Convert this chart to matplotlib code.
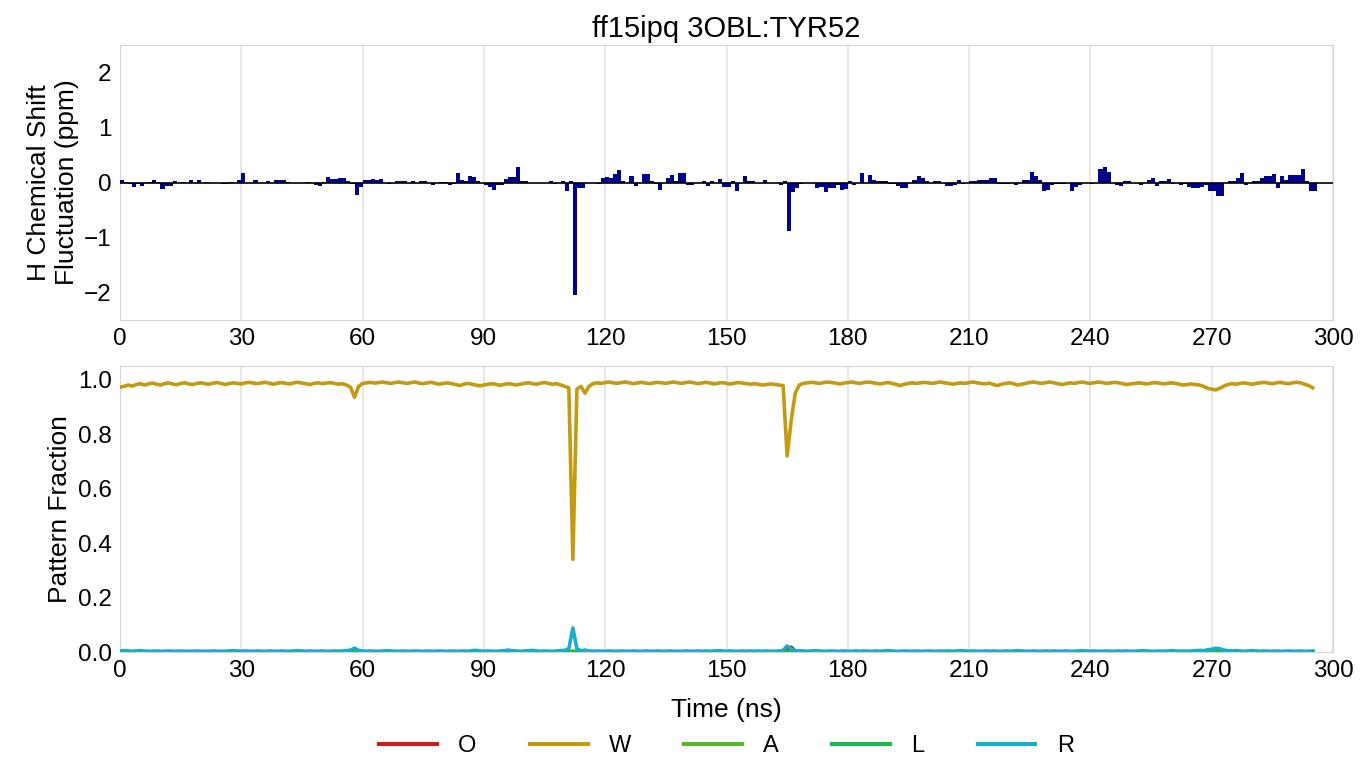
import numpy as np
import matplotlib
matplotlib.use("Agg")
from matplotlib import pyplot as plt

plt.rcParams["font.family"] = ["Liberation Sans", "DejaVu Sans"]

title = "ff15ipq 3OBL:TYR52"

# H chemical shift fluctuation (ppm), one bar per ns, t = 0..295
shift = [
    0.05, 0.01, -0.02, -0.08, -0.02, -0.07, 0.0, 0.01, 0.04, 0.01,
    -0.12, -0.07, -0.07, 0.02, 0.0, 0.01, 0.0, 0.04, 0.0, 0.04,
    0.0, 0.01, 0.0, 0.0, 0.0, -0.03, -0.03, 0.01, 0.0, 0.05,
    0.17, 0.0, 0.0, 0.04, 0.0, 0.0, 0.03, 0.0, 0.05, 0.04,
    0.04, 0.01, 0.0, 0.0, 0.0, 0.0, 0.01, 0.0, -0.04, -0.07,
    0.01, 0.1, 0.07, 0.07, 0.08, 0.08, 0.03, -0.02, -0.22, -0.08,
    0.05, 0.05, 0.06, 0.05, 0.06, 0.0, -0.02, 0.0, 0.03, 0.03,
    0.02, 0.0, 0.03, 0.0, 0.02, 0.02, 0.0, -0.04, 0.0, 0.01,
    0.01, -0.04, -0.03, 0.18, 0.05, 0.02, 0.12, 0.1, 0.03, 0.0,
    -0.05, -0.08, -0.14, -0.05, -0.05, 0.06, 0.1, 0.1, 0.28, 0.02,
    0.02, 0.0, 0.0, 0.0, 0.0, 0.0, 0.03, -0.02, 0.0, 0.03,
    -0.15, 0.02, -2.05, -0.1, -0.1, 0.0, 0.0, 0.0, -0.03, 0.09,
    0.1, 0.09, 0.15, 0.22, 0.02, 0.0, 0.12, -0.07, 0.0, 0.15,
    0.15, 0.02, -0.03, -0.14, 0.0, 0.08, 0.14, 0.03, 0.18, 0.18,
    -0.05, -0.05, 0.0, 0.0, 0.02, -0.06, 0.03, 0.0, 0.07, -0.08,
    -0.08, 0.02, -0.15, 0.0, 0.12, 0.02, 0.02, 0.0, 0.0, 0.05,
    0.0, 0.0, 0.0, -0.04, 0.02, -0.88, -0.18, -0.1, -0.03, 0.0,
    0.0, 0.0, -0.1, -0.08, -0.18, -0.1, -0.1, -0.05, -0.13, -0.12,
    0.03, -0.05, 0.0, 0.18, 0.0, 0.13, 0.05, 0.03, 0.03, 0.02,
    -0.02, -0.02, -0.07, -0.1, -0.1, 0.0, 0.05, 0.12, 0.08, 0.03,
    0.0, 0.03, 0.03, 0.0, -0.06, -0.06, -0.04, 0.04, -0.03, 0.0,
    0.03, 0.03, 0.05, 0.05, 0.05, 0.09, 0.09, -0.02, -0.02, -0.02,
    0.0, -0.04, 0.0, 0.05, 0.05, 0.2, 0.12, 0.04, -0.15, -0.13,
    -0.04, -0.02, -0.02, -0.02, 0.0, -0.15, -0.08, -0.04, 0.0, 0.0,
    -0.03, 0.0, 0.25, 0.29, 0.2, 0.0, -0.05, -0.06, 0.03, 0.03,
    0.0, 0.0, -0.04, 0.0, 0.05, 0.08, -0.06, 0.03, 0.03, 0.07,
    -0.03, 0.0, -0.05, -0.03, -0.08, -0.1, -0.1, -0.08, -0.05, -0.15,
    -0.15, -0.25, -0.25, 0.0, 0.02, 0.02, 0.08, 0.17, -0.04, 0.0,
    0.03, 0.03, 0.08, 0.12, 0.12, 0.15, -0.1, 0.12, 0.05, 0.14,
    0.14, 0.14, 0.25, 0.03, -0.15, -0.15,
]

# pattern fractions, t = 0..295
frac_w = [
    .972, .975, .980, .976, .982, .985, .980, .984, .987, .983, .980, .985, .988, .984, .981, .986, .988, .984, .982, .986,
    .988, .985, .983, .987, .989, .986, .982, .985, .988, .986, .984, .988, .990, .987, .985, .988, .990, .986, .983, .987,
    .989, .986, .984, .988, .990, .987, .985, .982, .986, .988, .985, .987, .989, .986, .983, .985, .980, .972, .935, .975,
    .986, .988, .990, .987, .989, .991, .988, .986, .989, .991, .988, .986, .989, .991, .987, .985, .988, .990, .986, .983,
    .986, .988, .985, .982, .978, .983, .986, .983, .980, .977, .980, .983, .985, .982, .979, .982, .985, .983, .980, .983,
    .986, .988, .985, .983, .987, .989, .986, .983, .985, .980, .975, .970, .340, .965, .975, .950, .975, .985, .988, .986,
    .989, .991, .988, .986, .989, .991, .988, .985, .988, .990, .987, .985, .988, .990, .988, .986, .989, .991, .988, .986,
    .989, .991, .988, .985, .988, .990, .987, .984, .987, .989, .986, .984, .987, .989, .987, .985, .983, .985, .982, .980,
    .982, .984, .982, .980, .978, .720, .850, .950, .980, .986, .988, .990, .988, .986, .989, .991, .989, .987, .984, .987,
    .989, .991, .988, .986, .989, .991, .989, .986, .984, .987, .989, .986, .982, .978, .983, .986, .988, .986, .988, .990,
    .988, .986, .989, .991, .988, .986, .983, .986, .988, .986, .989, .991, .988, .986, .984, .987, .982, .978, .983, .986,
    .988, .985, .980, .983, .986, .989, .991, .988, .986, .989, .991, .988, .985, .982, .985, .988, .986, .989, .991, .988,
    .986, .989, .991, .989, .986, .988, .990, .988, .985, .982, .984, .986, .988, .986, .984, .987, .989, .987, .984, .986,
    .988, .986, .983, .980, .982, .984, .982, .980, .975, .968, .965, .962, .968, .976, .982, .985, .983, .986, .988, .985,
    .983, .986, .988, .990, .987, .985, .988, .990, .987, .985, .988, .990, .988, .983, .978, .970,
]

frac_r = [
    .004, .005, .004, .003, .004, .005, .004, .003, .003, .004, .003, .003, .004, .003, .003, .004, .003, .003, .003, .004,
    .003, .003, .003, .004, .003, .003, .003, .004, .005, .004, .003, .004, .003, .003, .004, .003, .003, .004, .003, .003,
    .004, .003, .003, .004, .005, .004, .003, .004, .003, .003, .004, .003, .003, .004, .003, .004, .005, .007, .014, .006,
    .004, .003, .004, .003, .003, .004, .005, .004, .003, .003, .004, .003, .003, .004, .003, .003, .004, .003, .003, .004,
    .003, .003, .004, .003, .003, .004, .003, .005, .006, .004, .003, .004, .003, .003, .004, .005, .007, .005, .004, .003,
    .004, .005, .006, .004, .003, .004, .003, .003, .004, .005, .006, .012, .088, .012, .005, .007, .004, .003, .004, .003,
    .003, .004, .003, .003, .004, .003, .003, .004, .003, .003, .004, .003, .003, .004, .003, .003, .004, .003, .003, .003,
    .004, .003, .003, .004, .003, .004, .003, .004, .005, .004, .003, .004, .003, .003, .004, .003, .004, .003, .004, .003,
    .004, .003, .003, .004, .006, .022, .012, .004, .005, .004, .003, .004, .005, .004, .003, .003, .004, .003, .003, .004,
    .003, .003, .004, .003, .004, .003, .003, .004, .003, .004, .005, .004, .003, .003, .004, .003, .003, .004, .003, .003,
    .004, .003, .003, .004, .003, .004, .003, .004, .005, .004, .003, .004, .003, .003, .004, .003, .004, .003, .003, .004,
    .003, .004, .005, .004, .003, .003, .004, .003, .003, .004, .003, .004, .003, .003, .004, .003, .003, .004, .005, .004,
    .003, .004, .003, .003, .004, .003, .003, .004, .003, .004, .003, .003, .004, .005, .004, .003, .003, .004, .003, .004,
    .005, .004, .003, .004, .003, .004, .005, .006, .005, .008, .010, .014, .012, .007, .005, .004, .005, .004, .003, .004,
    .005, .004, .003, .004, .003, .003, .004, .003, .003, .004, .003, .003, .004, .003, .003, .004,
]

# the other patterns stay at zero apart from these points
peaks_o = {165: 0.008, 166: 0.018, 167: 0.004}
peaks_a = {112: 0.004}
peaks_l = {}

time = np.arange(len(shift))


def sparse(peaks):
    s = np.zeros(len(time))
    for k, v in peaks.items():
        s[k] = v
    return s


grid_col = "#e3e3e3"
spine_col = "#d5d5d5"

fig = plt.figure(figsize=(13.61, 7.58), dpi=100)
ax1 = fig.add_axes([0.0882, 0.5778, 0.8912, 0.3628])
ax2 = fig.add_axes([0.0882, 0.1398, 0.8912, 0.3774])

ax1.bar(time, shift, width=1.0, align="edge", color="#00008b", linewidth=0, zorder=3)
ax1.axhline(0, color="black", lw=1.2, zorder=4)
ax1.set_xlim(0, 300)
ax1.set_ylim(-2.5, 2.5)
ax1.set_yticks([-2, -1, 0, 1, 2])
ax1.set_ylabel("H Chemical Shift\nFluctuation (ppm)", fontsize=19)
ax1.set_title(title, fontsize=21, pad=6)

series = [
    ("O", sparse(peaks_o), "#cc1f1a"),
    ("W", frac_w, "#c49a12"),
    ("A", sparse(peaks_a), "#5cb82a"),
    ("L", sparse(peaks_l), "#1db64a"),
    ("R", frac_r, "#1aadc7"),
]
for name, vals, col in series:
    ax2.plot(time, vals, color=col, lw=2.6, label=name, zorder=3)
ax2.set_xlim(0, 300)
ax2.set_ylim(0, 1.05)
ax2.set_yticks([0, 0.2, 0.4, 0.6, 0.8, 1.0])
ax2.set_yticklabels(["0.0", "0.2", "0.4", "0.6", "0.8", "1.0"])
ax2.set_ylabel("Pattern Fraction", fontsize=19)
ax2.set_xlabel("Time (ns)", fontsize=19, labelpad=11)

for ax in (ax1, ax2):
    ax.set_xticks(range(0, 301, 30))
    ax.grid(axis="x", color=grid_col, lw=1.2, zorder=0)
    ax.tick_params(labelsize=17.5, length=0, pad=6)
    for sp in ax.spines.values():
        sp.set_color(spine_col)

leg = ax2.legend(loc="upper center", bbox_to_anchor=(0.5, -0.215), ncol=5,
                 frameon=False, fontsize=17, handlelength=2.45, columnspacing=2.25,
                 handletextpad=0.9)
for line in leg.get_lines():
    line.set_linewidth(3)

fig.savefig("out.png", dpi=100)
